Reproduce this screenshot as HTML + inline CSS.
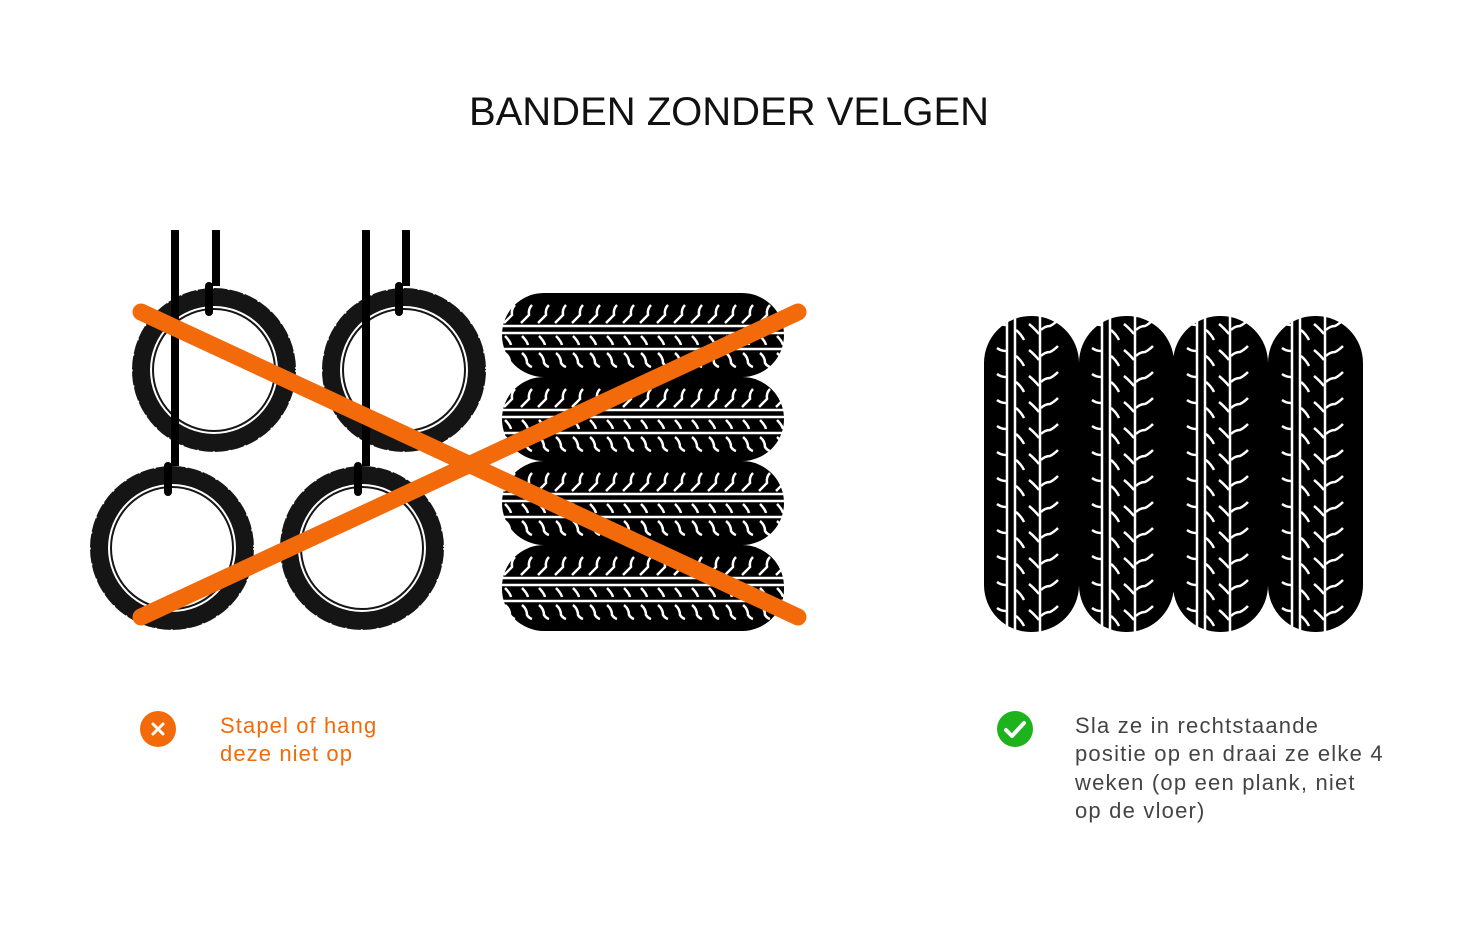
<!DOCTYPE html>
<html><head><meta charset="utf-8"><style>
body{margin:0;background:#fff;width:1463px;height:944px;overflow:hidden;font-family:"Liberation Sans",sans-serif}
</style></head><body>
<svg width="1463" height="944" viewBox="0 0 1463 944" xmlns="http://www.w3.org/2000/svg">
<defs>
<pattern id="ht" patternUnits="userSpaceOnUse" x="502" y="293" width="17" height="84">
<rect width="17" height="84" fill="#000"/>
<g stroke="#fff" fill="none" stroke-width="2.5">
<line x1="0" y1="33" x2="17" y2="33"/><line x1="0" y1="40" x2="17" y2="40"/><line x1="0" y1="56" x2="17" y2="56"/>
<path d="M13 12 Q9 16 10 22 Q6 26 2 30"/>
<path d="M3 43 Q8 48 9 52"/>
<path d="M3 60 Q8 64 8 70 Q10 73 13 74"/>
</g></pattern>
<pattern id="vt" patternUnits="userSpaceOnUse" x="984" y="316" width="95" height="26">
<rect width="95" height="26" fill="#000"/>
<g stroke="#fff" fill="none" stroke-width="2.5">
<line x1="23" y1="0" x2="23" y2="26"/><line x1="31" y1="0" x2="31" y2="26"/><line x1="56" y1="0" x2="56" y2="26"/>
<path d="M13 6 Q17 9 22 9"/><path d="M32 14 Q37 18 40 24"/><path d="M45 8 Q50 12 55 18"/>
<path d="M57 14 Q61 10 66 10 Q70 8 74 4"/>
</g></pattern>
<clipPath id="hc">
<rect x="502" y="293" width="282" height="84" rx="42"/>
<rect x="502" y="377" width="282" height="84" rx="42"/>
<rect x="502" y="461" width="282" height="84" rx="42"/>
<rect x="502" y="545" width="282" height="86" rx="42"/>
</clipPath>
<clipPath id="vc">
<rect x="984" y="316" width="95" height="316" rx="47"/>
<rect x="1079" y="316" width="95" height="316" rx="47"/>
<rect x="1173" y="316" width="95" height="316" rx="47"/>
<rect x="1268" y="316" width="95" height="316" rx="47"/>
</clipPath>
<g id="tire">
<circle r="82" fill="#151515"/>
<circle r="82" fill="none" stroke="#fff" stroke-width="1.5" stroke-dasharray="2 14"/>
<circle r="64" fill="#fff"/>
<circle r="61" fill="none" stroke="#151515" stroke-width="2"/>
</g>
</defs>
<text x="729" y="125" text-anchor="middle" font-size="40" fill="#111" font-family="Liberation Sans, sans-serif">BANDEN ZONDER VELGEN</text>

<use href="#tire" x="214" y="370"/>
<use href="#tire" x="404" y="370"/>
<use href="#tire" x="172" y="548"/>
<use href="#tire" x="362" y="548"/>
<g fill="#000">
<rect x="171" y="230" width="8" height="236"/>
<rect x="212" y="230" width="8" height="56"/>
<rect x="362" y="230" width="8" height="236"/>
<rect x="402" y="230" width="8" height="56"/>
<rect x="205" y="282" width="8" height="34" rx="4"/>
<rect x="395" y="282" width="8" height="34" rx="4"/>
<rect x="164" y="462" width="8" height="34" rx="4"/>
<rect x="354" y="462" width="8" height="34" rx="4"/>
</g>
<rect x="502" y="293" width="282" height="338" fill="url(#ht)" clip-path="url(#hc)"/>
<rect x="984" y="316" width="379" height="316" fill="url(#vt)" clip-path="url(#vc)"/>
<g stroke="#f26a0a" stroke-width="17" stroke-linecap="round">
<line x1="141" y1="312" x2="798" y2="617"/>
<line x1="141" y1="617" x2="798" y2="312"/>
</g>

<circle cx="158" cy="729" r="18" fill="#f26a0a"/>
<path d="M153 724 L163 734 M163 724 L153 734" stroke="#fff" stroke-width="3" stroke-linecap="round"/>
<text font-size="22" fill="#f26a0a" letter-spacing="1.1"><tspan x="220" y="733">Stapel of hang</tspan><tspan x="220" y="761">deze niet op</tspan></text>

<circle cx="1015" cy="729" r="18" fill="#1cb31c"/>
<path d="M1006 730 L1012 736 L1024 723" stroke="#fff" stroke-width="4" fill="none" stroke-linecap="round" stroke-linejoin="round"/>
<text font-size="22" fill="#444" letter-spacing="1.2"><tspan x="1075" y="733">Sla ze in rechtstaande</tspan><tspan x="1075" y="761">positie op en draai ze elke 4</tspan><tspan x="1075" y="790">weken (op een plank, niet</tspan><tspan x="1075" y="818">op de vloer)</tspan></text>
</svg>
</body></html>
